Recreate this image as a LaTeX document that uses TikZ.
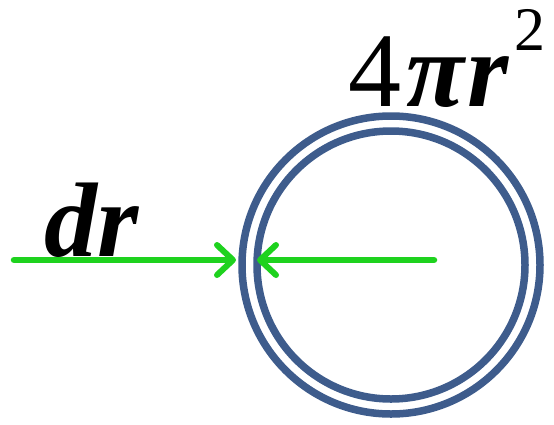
\documentclass[tikz,border=0pt]{standalone}
\usepackage{fontspec}
\setmainfont{Liberation Serif}
\definecolor{shellblue}{RGB}{62, 92, 140}
\definecolor{radgreen}{RGB}{30, 210, 30}
\usepackage{tikz}
\usetikzlibrary{arrows.meta, positioning, calc}

\begin{document}
\begin{tikzpicture}[
  x=1pt, y=-1pt,
  shell/.style={draw=shellblue, line width=7.5pt},
  ray/.style={draw=radgreen, line width=6.5pt, line cap=round,
    -{Straight Barb[length=16pt, width=30pt, line width=6pt, round]}},
  lbl/.style={inner sep=0pt, anchor=base west}
]
  \useasboundingbox (0,0) rectangle (554,424);
  \coordinate (ctr) at (391,265);
  \draw[shell] (ctr) circle[radius=149pt];
  \draw[shell] (ctr) circle[radius=134pt];

  \coordinate (far) at (14,260);
  \coordinate (outerleft) at (236,260);
  \coordinate (inside) at (434,260);
  \coordinate (innerleft) at (257,260);
  \draw[ray] (far) -- (outerleft);
  \draw[ray] (inside) -- (innerleft);

  \node[lbl] (drlabel) at (44,256) {\fontsize{106}{106}\selectfont\bfseries\itshape dr};
  \node[lbl] (arealabel) at (348,106) {\fontsize{106}{106}\selectfont 4\kern5pt{\bfseries\itshape π\kern3pt r}\kern6pt\raisebox{56pt}{\fontsize{62}{62}\selectfont 2}};
\end{tikzpicture}
\end{document}
